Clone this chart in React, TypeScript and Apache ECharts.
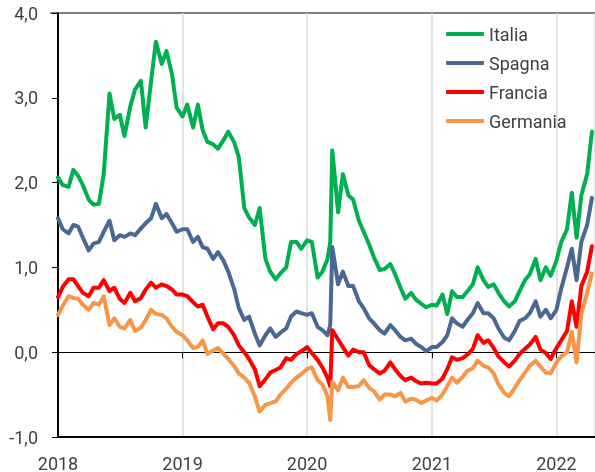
import { useEffect, useRef } from "react";
import * as echarts from "echarts";

// semi-monthly observation dates (plus the March 2020 trough)
const dates = [
  "2018-01-01","2018-01-15","2018-02-01","2018-02-15","2018-03-01","2018-03-15","2018-04-01","2018-04-15","2018-05-01","2018-05-15","2018-06-01","2018-06-15",
  "2018-07-01","2018-07-15","2018-08-01","2018-08-15","2018-09-01","2018-09-15","2018-10-01","2018-10-15","2018-11-01","2018-11-15","2018-12-01","2018-12-15",
  "2019-01-01","2019-01-15","2019-02-01","2019-02-15","2019-03-01","2019-03-15","2019-04-01","2019-04-15","2019-05-01","2019-05-15","2019-06-01","2019-06-15",
  "2019-07-01","2019-07-15","2019-08-01","2019-08-15","2019-09-01","2019-09-15","2019-10-01","2019-10-15","2019-11-01","2019-11-15","2019-12-01","2019-12-15",
  "2020-01-01","2020-01-15","2020-02-01","2020-02-15","2020-03-01","2020-03-09","2020-03-15","2020-04-01","2020-04-15","2020-05-01","2020-05-15","2020-06-01","2020-06-15",
  "2020-07-01","2020-07-15","2020-08-01","2020-08-15","2020-09-01","2020-09-15","2020-10-01","2020-10-15","2020-11-01","2020-11-15","2020-12-01","2020-12-15",
  "2021-01-01","2021-01-15","2021-02-01","2021-02-15","2021-03-01","2021-03-15","2021-04-01","2021-04-15","2021-05-01","2021-05-15","2021-06-01","2021-06-15",
  "2021-07-01","2021-07-15","2021-08-01","2021-08-15","2021-09-01","2021-09-15","2021-10-01","2021-10-15","2021-11-01","2021-11-15","2021-12-01","2021-12-15",
  "2022-01-01","2022-01-15","2022-02-01","2022-02-15","2022-03-01","2022-03-15","2022-04-01","2022-04-15",
];

const italia = [
  2.06, 1.97, 1.95, 2.15, 2.08, 1.97, 1.80, 1.74, 1.75, 2.10, 3.05, 2.75,
  2.80, 2.55, 2.90, 3.10, 3.20, 2.65, 3.20, 3.66, 3.40, 3.55, 3.28, 2.88,
  2.78, 2.92, 2.65, 2.92, 2.62, 2.48, 2.45, 2.40, 2.50, 2.60, 2.48, 2.30,
  1.70, 1.59, 1.50, 1.70, 1.10, 0.95, 0.86, 0.93, 1.00, 1.30, 1.30, 1.22,
  1.32, 1.30, 0.88, 0.95, 1.10, 1.30, 2.38, 1.65, 2.10, 1.85, 1.80, 1.55, 1.42,
  1.27, 1.12, 0.97, 0.98, 1.04, 0.92, 0.76, 0.63, 0.70, 0.62, 0.57, 0.53,
  0.56, 0.55, 0.68, 0.45, 0.72, 0.65, 0.65, 0.72, 0.80, 1.00, 0.85, 0.77,
  0.80, 0.70, 0.60, 0.54, 0.60, 0.72, 0.85, 0.92, 1.10, 0.85, 1.00, 0.90,
  1.08, 1.30, 1.45, 1.88, 1.35, 1.85, 2.10, 2.60,
];

const spagna = [
  1.58, 1.45, 1.40, 1.50, 1.48, 1.35, 1.20, 1.28, 1.30, 1.42, 1.55, 1.32,
  1.38, 1.36, 1.40, 1.38, 1.46, 1.52, 1.58, 1.75, 1.58, 1.63, 1.52, 1.42,
  1.45, 1.45, 1.30, 1.36, 1.24, 1.22, 1.10, 1.18, 1.08, 0.95, 0.75, 0.52,
  0.38, 0.42, 0.22, 0.08, 0.20, 0.28, 0.18, 0.23, 0.28, 0.42, 0.48, 0.46,
  0.44, 0.46, 0.30, 0.26, 0.20, 0.32, 1.24, 0.80, 0.95, 0.78, 0.78, 0.60, 0.52,
  0.40, 0.34, 0.26, 0.22, 0.32, 0.26, 0.18, 0.14, 0.16, 0.10, 0.06, 0.01,
  0.06, 0.06, 0.12, 0.20, 0.40, 0.34, 0.30, 0.38, 0.46, 0.58, 0.46, 0.46,
  0.40, 0.28, 0.17, 0.14, 0.25, 0.37, 0.40, 0.46, 0.60, 0.42, 0.50, 0.40,
  0.50, 0.75, 1.00, 1.22, 0.85, 1.30, 1.50, 1.82,
];

const francia = [
  0.65, 0.77, 0.86, 0.86, 0.78, 0.70, 0.66, 0.76, 0.76, 0.85, 0.72, 0.76,
  0.63, 0.58, 0.70, 0.60, 0.64, 0.74, 0.82, 0.76, 0.80, 0.78, 0.74, 0.68,
  0.68, 0.66, 0.59, 0.54, 0.56, 0.42, 0.27, 0.34, 0.34, 0.30, 0.20, 0.08,
  0.00, -0.08, -0.20, -0.40, -0.32, -0.24, -0.21, -0.18, -0.07, -0.09, -0.02, 0.01,
  0.06, -0.01, -0.09, -0.18, -0.30, -0.40, 0.26, 0.15, 0.06, -0.04, 0.03, 0.00, 0.00,
  -0.15, -0.20, -0.25, -0.22, -0.12, -0.20, -0.28, -0.33, -0.30, -0.34, -0.37, -0.36,
  -0.37, -0.37, -0.31, -0.20, -0.06, -0.09, -0.07, -0.03, 0.04, 0.20, 0.11, 0.14,
  0.05, -0.05, -0.12, -0.17, -0.10, -0.02, 0.04, 0.09, 0.18, 0.03, -0.01, -0.08,
  0.05, 0.14, 0.25, 0.60, 0.30, 0.78, 0.95, 1.25,
];

const germania = [
  0.44, 0.55, 0.66, 0.64, 0.63, 0.56, 0.50, 0.58, 0.56, 0.66, 0.32, 0.40,
  0.30, 0.28, 0.38, 0.25, 0.29, 0.38, 0.50, 0.45, 0.44, 0.40, 0.30, 0.24,
  0.20, 0.14, 0.05, 0.06, 0.14, -0.02, 0.02, 0.05, -0.02, -0.08, -0.16, -0.25,
  -0.30, -0.36, -0.52, -0.70, -0.62, -0.60, -0.58, -0.50, -0.43, -0.36, -0.30, -0.26,
  -0.20, -0.18, -0.33, -0.38, -0.52, -0.80, -0.35, -0.45, -0.30, -0.41, -0.41, -0.40, -0.33,
  -0.42, -0.46, -0.56, -0.50, -0.50, -0.52, -0.48, -0.58, -0.55, -0.56, -0.60, -0.57,
  -0.54, -0.57, -0.50, -0.40, -0.30, -0.36, -0.29, -0.22, -0.19, -0.10, -0.16, -0.18,
  -0.25, -0.38, -0.48, -0.52, -0.42, -0.33, -0.24, -0.16, -0.10, -0.17, -0.24, -0.25,
  -0.12, -0.05, 0.00, 0.24, -0.12, 0.45, 0.70, 0.93,
];

const seriesNames = ["Italia", "Spagna", "Francia", "Germania"];
const seriesColors = ["#00B050", "#4A6894", "#FF0000", "#F79646"];
const seriesValues = [italia, spagna, francia, germania];

const X_MIN = "2018-01-01";
const X_MAX = "2022-04-24";
const Y_MIN = -1;
const Y_MAX = 4;
const Y_STEP = 1;

export default function App() {
  const ref = useRef<HTMLDivElement>(null);

  useEffect(() => {
    document.body.style.margin = "0";
    const chart = echarts.init(ref.current!, null, { renderer: "svg" });
    const font = "Roboto, 'Noto Sans', sans-serif";
    const textColor = "#404040";
    const xMin = Date.parse(X_MIN);
    const xMax = Date.parse(X_MAX);
    const YEAR = 365 * 24 * 3600 * 1000;
    const YEAR_L = 366 * 24 * 3600 * 1000;

    chart.setOption({
      animation: false,
      useUTC: true,
      textStyle: { fontFamily: font },
      grid: { left: 58, right: 0, top: 13, bottom: 35, containLabel: false },
      xAxis: [
        {
          type: "time",
          min: xMin,
          max: xMax,
          position: "bottom",
          minInterval: YEAR,
          maxInterval: YEAR_L,
          axisLine: { show: true, onZero: false, lineStyle: { color: "#000", width: 2 } },
          axisTick: { show: false },
          axisLabel: {
            formatter: (v: number) => String(new Date(v).getUTCFullYear()),
            fontSize: 18,
            color: textColor,
            fontFamily: font,
            margin: 17,
            showMinLabel: true,
          },
          splitLine: { show: true, lineStyle: { color: "#d9d9d9", width: 1.5 } },
        },
        {
          type: "time",
          min: xMin,
          max: xMax,
          position: "top",
          minInterval: YEAR,
          maxInterval: YEAR_L,
          axisLine: { show: true, onZero: true, lineStyle: { color: "#000", width: 1 } },
          axisTick: { show: true, inside: true, length: 6, lineStyle: { color: "#000", width: 1 } },
          axisLabel: { show: false },
          splitLine: { show: false },
        },
      ],
      yAxis: {
        type: "value",
        min: Y_MIN,
        max: Y_MAX,
        interval: Y_STEP,
        axisLine: { show: true, onZero: false, lineStyle: { color: "#000", width: 2 } },
        axisTick: { show: true, length: 6, lineStyle: { color: "#000", width: 1 } },
        axisLabel: {
          formatter: (v: number) => v.toFixed(1).replace(".", ","),
          fontSize: 18,
          color: textColor,
          fontFamily: font,
          margin: 20,
        },
        splitLine: { show: false },
      },
      legend: {
        orient: "vertical",
        left: 441,
        top: 20,
        itemWidth: 38,
        itemHeight: 4,
        itemGap: 11,
        icon: "roundRect",
        textStyle: { fontSize: 18, color: textColor, fontFamily: font },
        data: seriesNames,
      },
      graphic: [
        {
          type: "line",
          shape: { x1: 50, y1: 13, x2: 595, y2: 13 },
          style: { stroke: "#000", lineWidth: 1 },
          silent: true,
        },
      ],
      series: seriesNames.map((name, k) => ({
        type: "line",
        name,
        xAxisIndex: 0,
        yAxisIndex: 0,
        data: dates.map((d, i) => [d, seriesValues[k][i]]),
        showSymbol: false,
        symbol: "none",
        silent: true,
        lineStyle: { color: seriesColors[k], width: 4, join: "round", cap: "round" },
        itemStyle: { color: seriesColors[k] },
        z: 2 + k,
      })),
    });

    return () => chart.dispose();
  }, []);

  return (
    <div
      ref={ref}
      style={{ position: "fixed", left: 0, top: 0, width: 595, height: 472 }}
    />
  );
}
